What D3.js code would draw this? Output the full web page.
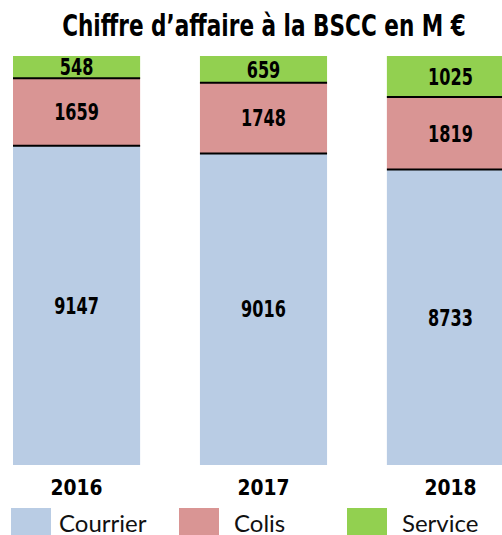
<!DOCTYPE html>
<html>
<head>
<meta charset="utf-8">
<script src="https://cdn.jsdelivr.net/npm/d3@7"></script>
<style>
  body { margin: 0; background: #fff; }
  svg { display: block; }
</style>
</head>
<body>
<div id="chart"></div>
<script>
// data
var years = ["2016", "2017", "2018"];
var courrier = [9147, 9016, 8733];
var colis = [1659, 1748, 1819];
var service = [548, 659, 1025];
var seriesNames = ["Courrier", "Colis", "Service"];
var seriesColors = ["#b9cce4", "#d99594", "#92d050"];

var width = 502, height = 535;
var boldFont = "'DejaVu Sans', sans-serif";

var rows = years.map(function(y, i) {
    return {year: y, Courrier: courrier[i], Colis: colis[i], Service: service[i]};
});

var svg = d3.select("#chart")
    .append("svg")
    .attr("width", width)
    .attr("height", height);

// the original font is a tall condensed bold, squeeze DejaVu horizontally
function condensed(sel, size) {
    sel.style("font-family", boldFont)
        .style("font-weight", "bold")
        .style("font-size", size + "px")
        .attr("text-anchor", "middle")
        .attr("fill", "#000");
}

// title
svg.append("text")
    .attr("transform", "translate(264,36) scale(0.72,1)")
    .call(condensed, 30)
    .text("Chiffre d\u2019affaire \u00e0 la BSCC en M \u20ac");

var x = d3.scaleBand()
    .domain(years)
    .range([13, 514])
    .paddingInner(0.32)
    .paddingOuter(0);

// bars are drawn as shares of the yearly total, axis starts a bit above 0
var yMin = 0.115;
var y = d3.scaleLinear()
    .domain([yMin, 1])
    .range([465, 56]);

var stack = d3.stack()
    .keys(seriesNames)
    .offset(d3.stackOffsetExpand);
var layers = stack(rows);

var color = d3.scaleOrdinal().domain(seriesNames).range(seriesColors);

var g = svg.append("g");

layers.forEach(function(layer) {
    g.selectAll(null)
        .data(layer)
        .enter()
        .append("rect")
        .attr("x", function(d) { return x(d.data.year); })
        .attr("width", x.bandwidth())
        .attr("y", function(d) { return y(d[1]); })
        .attr("height", function(d) { return y(Math.max(d[0], yMin)) - y(d[1]); })
        .attr("fill", color(layer.key));
});

// black separators at the top of Courrier and Colis
layers.slice(0, 2).forEach(function(layer) {
    g.selectAll(null)
        .data(layer)
        .enter()
        .append("line")
        .attr("x1", function(d) { return x(d.data.year); })
        .attr("x2", function(d) { return x(d.data.year) + x.bandwidth(); })
        .attr("y1", function(d) { return y(d[1]); })
        .attr("y2", function(d) { return y(d[1]); })
        .attr("stroke", "#000")
        .attr("stroke-width", 2);
});

// value labels
layers.forEach(function(layer) {
    g.selectAll(null)
        .data(layer)
        .enter()
        .append("text")
        .attr("transform", function(d) {
            var cx = x(d.data.year) + x.bandwidth() / 2;
            var cy = (y(Math.max(d[0], yMin)) + y(d[1])) / 2;
            return "translate(" + cx + "," + cy + ") scale(0.7,1)";
        })
        .attr("dy", "0.36em")
        .call(condensed, 23)
        .text(function(d) { return d.data[layer.key]; });
});

// year labels
var xAxis = svg.append("g")
    .attr("transform", "translate(0,465)")
    .call(d3.axisBottom(x).tickSize(0).tickPadding(0));
xAxis.select(".domain").remove();
xAxis.selectAll(".tick text")
    .attr("y", 0)
    .attr("dy", 0)
    .attr("transform", "translate(0,30) scale(0.85,1)")
    .call(condensed, 22);

// legend
var legendX = d3.scalePoint().domain(seriesNames).range([11, 347]);

var legend = svg.append("g")
    .selectAll("g")
    .data(seriesNames)
    .enter()
    .append("g")
    .attr("transform", function(d) { return "translate(" + legendX(d) + ",508)"; });

legend.append("rect")
    .attr("width", 40)
    .attr("height", 30)
    .attr("fill", function(d) { return color(d); });

legend.append("text")
    .attr("x", function(d, i) { return i == 0 ? 48 : 55; })
    .attr("y", 24)
    .style("font-family", "Lato, 'Noto Sans', sans-serif")
    .style("font-size", "24px")
    .attr("fill", "#111")
    .text(function(d) { return d; });
</script>
</body>
</html>
